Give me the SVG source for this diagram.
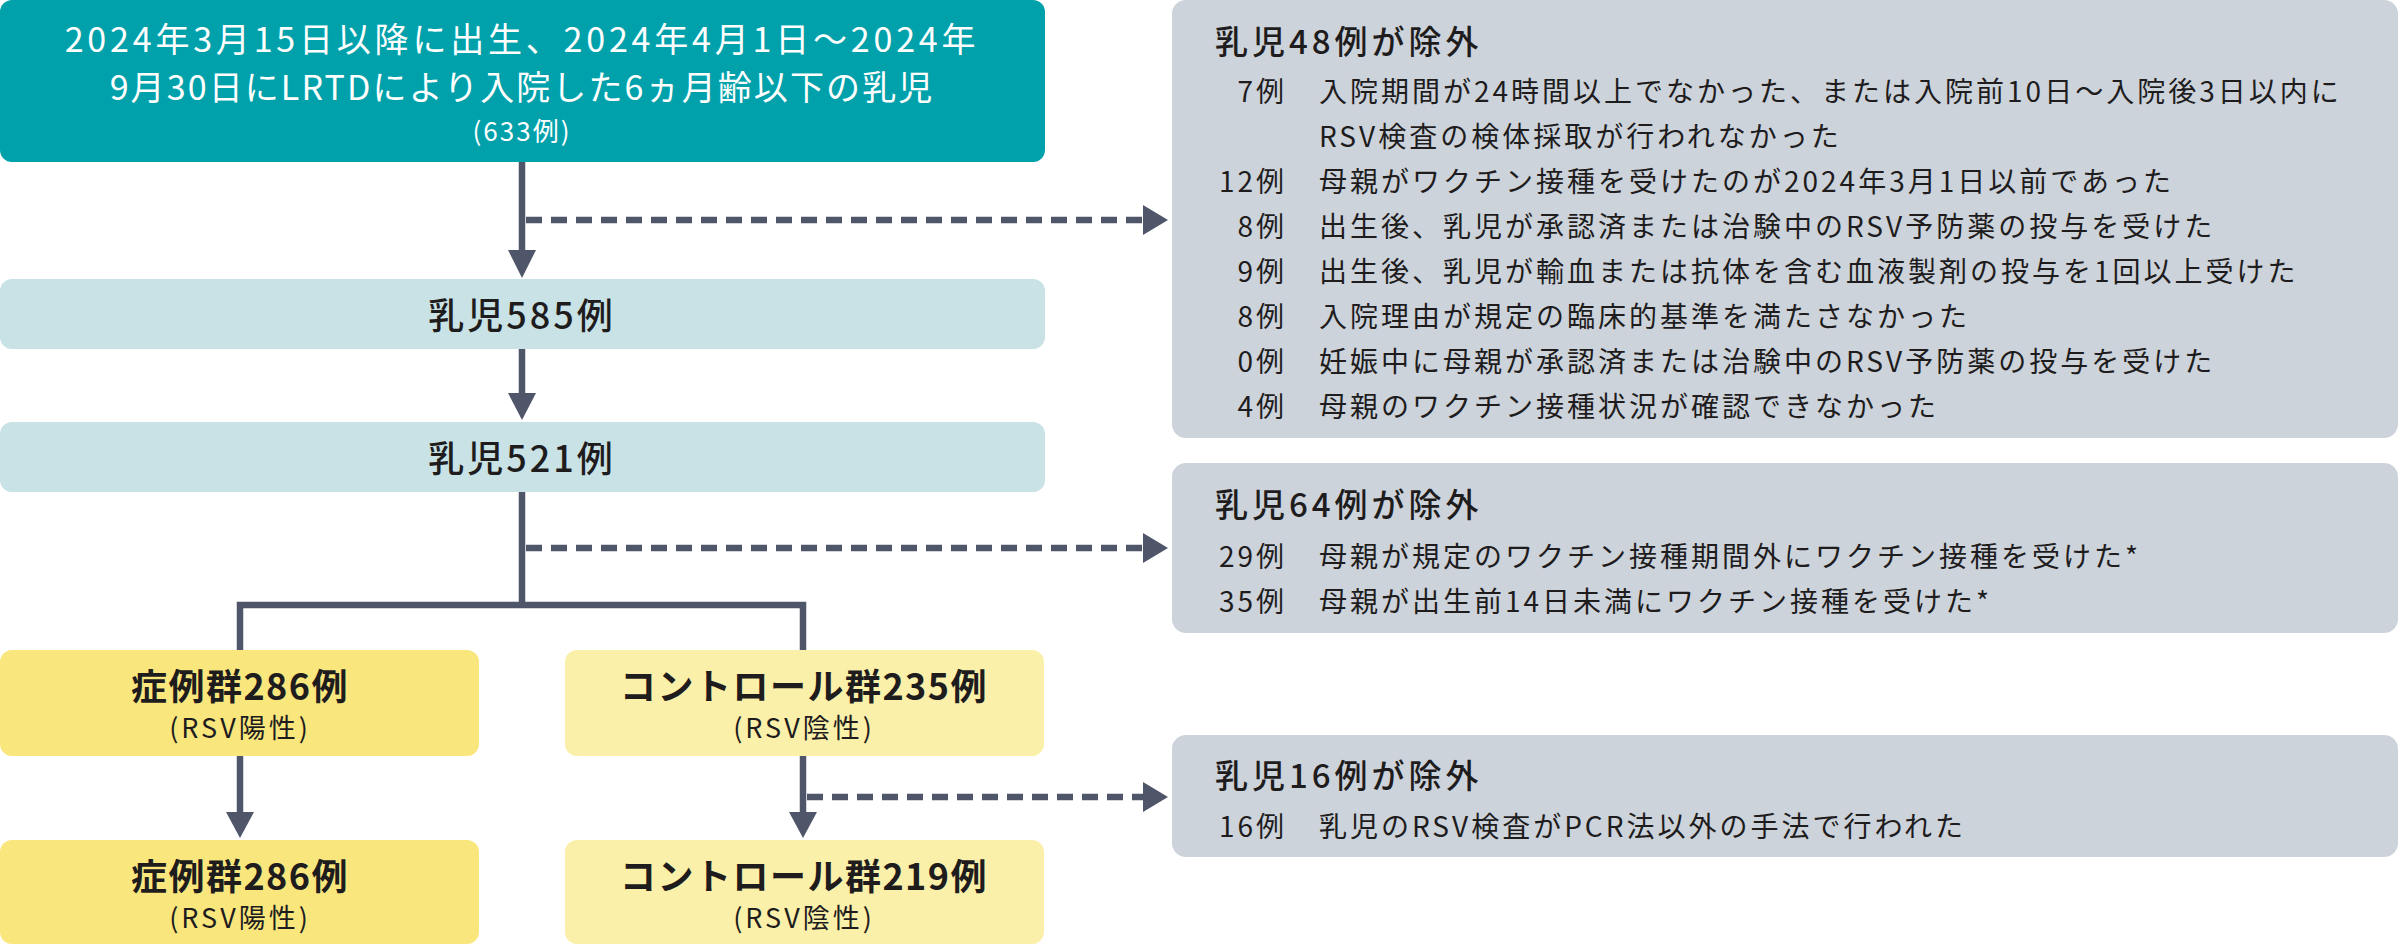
<svg xmlns="http://www.w3.org/2000/svg" width="2400" height="946" viewBox="0 0 2400 946">
<defs>
<style>
text{font-family:"Noto Sans CJK JP","Noto Sans",sans-serif;fill:#1e1c1d}
.top{fill:#fff;font-size:34px;text-anchor:middle}
.topsub{fill:#fff;font-size:26px;letter-spacing:2px;text-anchor:middle}
.mid{font-size:36px;font-weight:500;letter-spacing:3px;text-anchor:middle}
.grp{font-size:36px;font-weight:700;letter-spacing:1.5px;text-anchor:middle}
.sub{font-size:27px;letter-spacing:3px;text-anchor:middle}
.ttl{font-size:33px;font-weight:500;letter-spacing:4px}
.num{font-size:28px;letter-spacing:3px;text-anchor:end}
.body{font-size:28px;letter-spacing:3px}
.ln{stroke:#50566a;stroke-width:6.5;fill:none}
.dash{stroke:#50566a;stroke-width:6.5;fill:none;stroke-dasharray:16 9}
.hd{fill:#50566a}
</style>
</defs>
<g id="connectors">
<line class="ln" x1="522" y1="162" x2="522" y2="254"/>
<polygon class="hd" points="508,250 536,250 522,278"/>
<line class="dash" x1="526" y1="220" x2="1145" y2="220"/>
<polygon class="hd" points="1143,205 1143,235 1168,220"/>
<line class="ln" x1="522" y1="349" x2="522" y2="396"/>
<polygon class="hd" points="508,393 536,393 522,420"/>
<line class="ln" x1="522" y1="492" x2="522" y2="605"/>
<line class="dash" x1="526" y1="548" x2="1145" y2="548"/>
<polygon class="hd" points="1143,533 1143,563 1168,548"/>
<polyline class="ln" points="240,650 240,605 803,605 803,650"/>
<line class="ln" x1="240" y1="756" x2="240" y2="815"/>
<polygon class="hd" points="226,812 254,812 240,838"/>
<line class="ln" x1="803" y1="756" x2="803" y2="815"/>
<polygon class="hd" points="789,812 817,812 803,838"/>
<line class="dash" x1="807" y1="797" x2="1145" y2="797"/>
<polygon class="hd" points="1143,782 1143,812 1168,797"/>
</g>
<g id="n-start">
<rect x="0" y="0" width="1045" height="162" rx="12" fill="#00a1ab"/>
<text class="top" x="522" y="52" letter-spacing="3.8">2024年3月15日以降に出生、2024年4月1日～2024年</text>
<text class="top" x="522" y="100" letter-spacing="2.1">9月30日にLRTDにより入院した6ヵ月齢以下の乳児</text>
<text class="topsub" x="522" y="141">(633例)</text>
</g>
<g id="n-585">
<rect x="0" y="279" width="1045" height="70" rx="12" fill="#c8e2e6"/>
<text class="mid" x="522" y="329">乳児585例</text>
</g>
<g id="n-521">
<rect x="0" y="422" width="1045" height="70" rx="12" fill="#c8e2e6"/>
<text class="mid" x="522" y="472">乳児521例</text>
</g>
<g id="n-case1">
<rect x="0" y="650" width="479" height="106" rx="12" fill="#f9e77e"/>
<text class="grp" x="240" y="700">症例群286例</text>
<text class="sub" x="240" y="738">(RSV陽性)</text>
</g>
<g id="n-ctrl1">
<rect x="565" y="650" width="479" height="106" rx="12" fill="#fbf0a9"/>
<text class="grp" x="804" y="700">コントロール群235例</text>
<text class="sub" x="804" y="738">(RSV陰性)</text>
</g>
<g id="n-case2">
<rect x="0" y="840" width="479" height="104" rx="12" fill="#f9e77e"/>
<text class="grp" x="240" y="890">症例群286例</text>
<text class="sub" x="240" y="928">(RSV陽性)</text>
</g>
<g id="n-ctrl2">
<rect x="565" y="840" width="479" height="104" rx="12" fill="#fbf0a9"/>
<text class="grp" x="804" y="890">コントロール群219例</text>
<text class="sub" x="804" y="928">(RSV陰性)</text>
</g>
<g id="ex-48">
<rect x="1172" y="0" width="1226" height="438" rx="14" fill="#cdd3da"/>
<text class="ttl" x="1215" y="54">乳児48例が除外</text>
<text class="num" x="1287" y="102">7例</text>
<text class="body" x="1319" y="102">入院期間が24時間以上でなかった、または入院前10日～入院後3日以内に</text>
<text class="body" x="1319" y="147">RSV検査の検体採取が行われなかった</text>
<text class="num" x="1287" y="192">12例</text>
<text class="body" x="1319" y="192">母親がワクチン接種を受けたのが2024年3月1日以前であった</text>
<text class="num" x="1287" y="237">8例</text>
<text class="body" x="1319" y="237">出生後、乳児が承認済または治験中のRSV予防薬の投与を受けた</text>
<text class="num" x="1287" y="282">9例</text>
<text class="body" x="1319" y="282">出生後、乳児が輸血または抗体を含む血液製剤の投与を1回以上受けた</text>
<text class="num" x="1287" y="327">8例</text>
<text class="body" x="1319" y="327">入院理由が規定の臨床的基準を満たさなかった</text>
<text class="num" x="1287" y="372">0例</text>
<text class="body" x="1319" y="372">妊娠中に母親が承認済または治験中のRSV予防薬の投与を受けた</text>
<text class="num" x="1287" y="417">4例</text>
<text class="body" x="1319" y="417">母親のワクチン接種状況が確認できなかった</text>
</g>
<g id="ex-64">
<rect x="1172" y="463" width="1226" height="170" rx="14" fill="#cdd3da"/>
<text class="ttl" x="1215" y="517">乳児64例が除外</text>
<text class="num" x="1287" y="567">29例</text>
<text class="body" x="1319" y="567">母親が規定のワクチン接種期間外にワクチン接種を受けた*</text>
<text class="num" x="1287" y="612">35例</text>
<text class="body" x="1319" y="612">母親が出生前14日未満にワクチン接種を受けた*</text>
</g>
<g id="ex-16">
<rect x="1172" y="735" width="1226" height="122" rx="14" fill="#cdd3da"/>
<text class="ttl" x="1215" y="788">乳児16例が除外</text>
<text class="num" x="1287" y="837">16例</text>
<text class="body" x="1319" y="837">乳児のRSV検査がPCR法以外の手法で行われた</text>
</g>
</svg>
